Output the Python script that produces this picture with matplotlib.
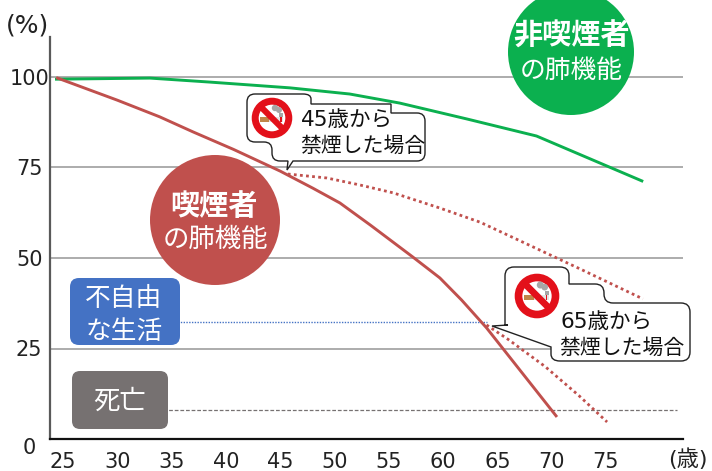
import matplotlib
matplotlib.use('Agg')
import matplotlib.pyplot as plt
import matplotlib.transforms as mtrans
from matplotlib.patches import Circle, PathPatch, Rectangle
from matplotlib.path import Path

plt.rcParams['font.family'] = ['DejaVu Sans', 'Noto Sans CJK JP']

# values
x_ticks = [25, 30, 35, 40, 45, 50, 55, 60, 65, 70, 75]
y_ticks = [0, 25, 50, 75, 100]

nonsmoker_age = [24.4, 33.0, 38.5, 45.9, 51.4, 56.0, 62.2, 68.6, 78.3]
nonsmoker_val = [99.4, 99.7, 98.6, 97.0, 95.3, 92.8, 88.4, 83.7, 71.3]

smoker_age = [24.5, 30.0, 33.9, 37.0, 40.7, 45.0, 48.0, 50.5, 53.3, 57.2, 59.7, 61.7, 64.0, 70.4]
smoker_val = [99.7, 93.6, 89.0, 84.8, 80.0, 74.0, 69.3, 65.2, 59.1, 50.3, 44.5, 38.4, 30.7, 6.4]

quit45_age = [45.7, 49.3, 52.3, 55.4, 59.7, 63.4, 66.9, 72.6, 78.4]
quit45_val = [73.2, 72.1, 70.2, 68.0, 63.8, 59.9, 55.0, 47.0, 38.7]

quit65_age = [64.0, 66.0, 69.4, 72.5, 75.1]
quit65_val = [31.5, 27.5, 20.0, 12.0, 4.7]

limit_age = [35.0, 64.0]
limit_val = [32.3, 32.3]
death_age = [34.2, 81.5]
death_val = [8.0, 8.0]

GREEN = '#0BB04F'
RED = '#C0504D'
BLUE = '#4472C4'
GRAY = '#767171'

W, H = 712, 471
fig = plt.figure(figsize=(W / 100, H / 100), dpi=100)

# main axes, placed so that 25 sits at px 63 and 100% at px 77
left, right, bottom, top = 50, 683, 439, 37
ax = fig.add_axes([left / W, 1 - bottom / H, (right - left) / W, (bottom - top) / H])
ax.set_xlim(25 + (left - 63) / 10.86, 25 + (right - 63) / 10.86)
ax.set_ylim(0, (bottom - top) / 3.62)

for s in ['top', 'right']:
    ax.spines[s].set_visible(False)
ax.spines['left'].set_color('#595959')
ax.spines['left'].set_linewidth(1.6)
ax.spines['bottom'].set_color('#111111')
ax.spines['bottom'].set_linewidth(1.6)

ax.set_xticks(x_ticks)
ax.set_yticks(y_ticks)
ax.tick_params(axis='both', length=0, labelsize=15, colors='#222222')
ax.tick_params(axis='x', pad=9.5)
ax.tick_params(axis='y', pad=15)
for lab in ax.get_yticklabels():
    lab.set_ha('center')
# the 0 sits a little below the axis line
zero = ax.get_yticklabels()[0]
zero.set_transform(zero.get_transform() + mtrans.ScaledTranslation(0, -5 / 72, fig.dpi_scale_trans))
for v in y_ticks[1:]:
    ax.axhline(v, color='#A6A6A6', lw=1.3, zorder=1)

ax.plot(limit_age, limit_val, color=BLUE, lw=1, ls=(0, (1, 1)), zorder=2)
ax.plot(death_age, death_val, color=GRAY, lw=0.9, ls=(0, (3, 1.5)), zorder=2)
ax.plot(nonsmoker_age, nonsmoker_val, color=GREEN, lw=2.1, zorder=3)
ax.plot(smoker_age, smoker_val, color=RED, lw=2.1, zorder=3)
ax.plot(quit45_age, quit45_val, color=RED, lw=2, ls=(0, (1, 1.2)), zorder=3)
ax.plot(quit65_age, quit65_val, color=RED, lw=2, ls=(0, (1, 1.2)), zorder=3)

# overlay in pixel coordinates for the badges and callouts
ov = fig.add_axes([0, 0, 1, 1], facecolor='none')
ov.set_xlim(0, W)
ov.set_ylim(H, 0)
ov.axis('off')


def rounded_outline(pts, radius, sharp=()):
    # closed path through pts, corners rounded except those listed in sharp
    verts, codes = [], []
    n = len(pts)
    for i, p in enumerate(pts):
        a, b = pts[i - 1], pts[(i + 1) % n]
        if i in sharp:
            enter, leave = p, p
        else:
            da = ((a[0] - p[0]) ** 2 + (a[1] - p[1]) ** 2) ** 0.5
            db = ((b[0] - p[0]) ** 2 + (b[1] - p[1]) ** 2) ** 0.5
            ra, rb = min(radius, da / 2), min(radius, db / 2)
            enter = (p[0] + (a[0] - p[0]) * ra / da, p[1] + (a[1] - p[1]) * ra / da)
            leave = (p[0] + (b[0] - p[0]) * rb / db, p[1] + (b[1] - p[1]) * rb / db)
        verts.append(enter)
        codes.append(Path.MOVETO if i == 0 else Path.LINETO)
        if i not in sharp:
            verts += [p, leave]
            codes += [Path.CURVE3, Path.CURVE3]
    verts.append(verts[0])
    codes.append(Path.CLOSEPOLY)
    return Path(verts, codes)


def no_smoking(cx, cy, r):
    ov.add_patch(Circle((cx, cy), r * 0.84, fc='white', ec='#E3101A', lw=r * 0.25, zorder=7))
    s = r / 20
    ov.add_patch(Rectangle((cx - 12 * s, cy - 1 * s), 9 * s, 5 * s, fc='#C0874A', ec='none', zorder=7))
    ov.add_patch(Rectangle((cx - 3 * s, cy - 1 * s), 14 * s, 5 * s, fc='#E4E4E4', ec='none', zorder=7))
    ov.add_patch(Rectangle((cx + 8 * s, cy - 1 * s), 1.5 * s, 5 * s, fc='#E3101A', ec='none', zorder=7))
    ov.add_patch(Circle((cx + 3 * s, cy - 10 * s), 3.2 * s, fc='#A6A6A6', ec='none', zorder=7))
    ov.add_patch(Circle((cx + 7 * s, cy - 8 * s), 3 * s, fc='#A6A6A6', ec='none', zorder=7))
    ov.add_patch(Rectangle((cx + 7 * s, cy - 5 * s), 3.5 * s, 4 * s, fc='#A6A6A6', ec='none', zorder=7))
    ov.plot([cx - r * 0.6, cx + r * 0.6], [cy - r * 0.6, cy + r * 0.6], color='#E3101A',
            lw=r * 0.22, solid_capstyle='butt', zorder=8)


# round badges
ov.add_patch(Circle((571, 52), 63, fc=GREEN, ec='none', zorder=4))
ov.text(571, 37, '非喫煙者', color='white', fontsize=21, fontweight='bold', ha='center', va='center', zorder=5)
ov.text(571, 71, 'の肺機能', color='white', fontsize=18.5, ha='center', va='center', zorder=5)
ov.add_patch(Circle((215, 220), 65, fc=RED, ec='none', zorder=4))
ov.text(214, 207, '喫煙者', color='white', fontsize=21, fontweight='bold', ha='center', va='center', zorder=5)
ov.text(215, 240, 'の肺機能', color='white', fontsize=19, ha='center', va='center', zorder=5)

# label boxes
ov.add_patch(PathPatch(rounded_outline([(70, 278), (180, 278), (180, 345), (70, 345)], 9), fc=BLUE, ec='none', zorder=4))
ov.text(124, 299, '不自由', color='white', fontsize=18.5, ha='center', va='center', zorder=5)
ov.text(124, 332, 'な生活', color='white', fontsize=18.5, ha='center', va='center', zorder=5)
ov.add_patch(PathPatch(rounded_outline([(72, 371), (168, 371), (168, 429), (72, 429)], 8), fc=GRAY, ec='none', zorder=4))
ov.text(120, 402, '死亡', color='white', fontsize=19, ha='center', va='center', zorder=5)

# callouts
call45 = [(247, 94), (311, 94), (311, 104), (391, 104), (391, 113), (425, 113), (425, 161),
          (293, 161), (287, 170), (288, 161), (272, 161), (272, 142), (247, 142)]
ov.add_patch(PathPatch(rounded_outline(call45, 8, sharp=(2, 3, 4, 7, 8, 9)), fc='white', ec='#222222', lw=1, zorder=6))
no_smoking(272, 118, 20)
ov.text(347, 120, '45歳から', color='#111111', fontsize=15.5, ha='center', va='center', zorder=7)
ov.text(363, 146, '禁煙した場合', color='#111111', fontsize=15, ha='center', va='center', zorder=7)

call65 = [(505, 267), (569, 267), (569, 284), (604, 284), (604, 303), (690, 303), (690, 361),
          (551, 361), (551, 347), (492, 326), (508, 325), (505, 325)]
ov.add_patch(PathPatch(rounded_outline(call65, 9, sharp=(2, 8, 9, 10, 11)), fc='white', ec='#222222', lw=1, zorder=6))
no_smoking(537, 296, 22)
ov.text(607, 322, '65歳から', color='#111111', fontsize=15.5, ha='center', va='center', zorder=7)
ov.text(622, 348, '禁煙した場合', color='#111111', fontsize=15, ha='center', va='center', zorder=7)

# axis units
ov.text(28, 26, '(%)', color='#222222', fontsize=18, ha='center', va='center')
ov.text(688, 459, '(歳)', color='#222222', fontsize=16, ha='center', va='center')

fig.savefig('out.png', dpi=100)
